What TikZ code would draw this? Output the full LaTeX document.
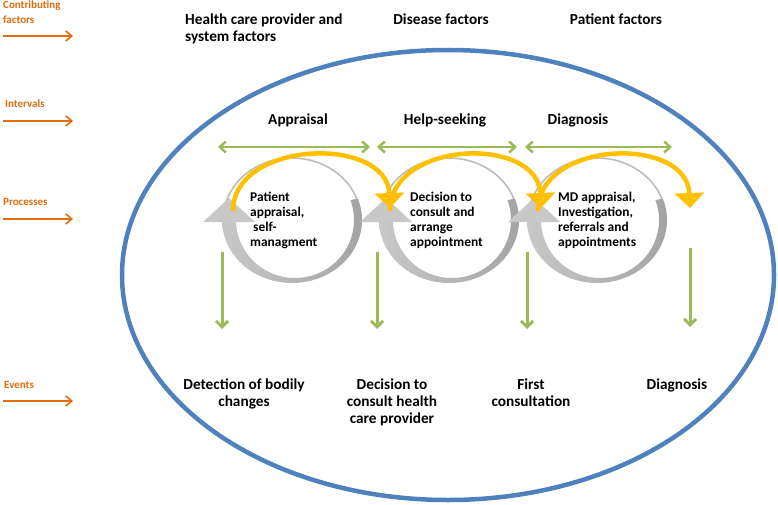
\documentclass[tikz,border=0pt]{standalone}
\usepackage{fontspec}
\setmainfont{Carlito}
\usetikzlibrary{arrows.meta}
\definecolor{org}{HTML}{E46C0A}
\definecolor{grn}{HTML}{9BBB59}
\definecolor{blu}{HTML}{4F81BD}
\definecolor{ylw}{HTML}{FFC000}
\definecolor{gryA}{HTML}{C8C8C8}
\definecolor{gryB}{HTML}{A2A2A2}
\definecolor{gryL}{HTML}{BDBDBD}
\begin{document}
\begin{tikzpicture}[x=1pt,y=-1pt,
  lbl/.style={font=\fontsize{11}{14.3}\selectfont\bfseries, text=org, inner sep=0, align=left, anchor=base west},
  big/.style={font=\fontsize{15.3}{17}\selectfont\bfseries, inner sep=0, anchor=base},
  proc/.style={font=\fontsize{13.4}{15}\selectfont\bfseries, inner sep=0, align=left, anchor=base west},
  oarr/.style={draw=org, line width=1.6, -{Straight Barb[length=6pt,width=10pt,line width=1.6pt]}},
  harr/.style={draw=grn, line width=2.5, {Straight Barb[length=6pt,width=11pt,line width=2.5pt]}-{Straight Barb[length=6pt,width=11pt,line width=2.5pt]}},
  varr/.style={draw=grn, line width=3, -{Straight Barb[length=6pt,width=12pt,line width=3pt]}},
  yarr/.style={draw=ylw, line width=4.5, -{Triangle[length=15pt,width=29pt]}},
  gthin/.style={draw=gryL, line width=1.6},
]
\useasboundingbox (0,0) rectangle (778,505);
\fill[white] (0,0) rectangle (778,505);

% outer ellipse
\draw[blu, line width=4.5] (448,275) ellipse [x radius=326, y radius=225];

% left labels and arrows (base anchor = last line)
\node[lbl] (lcf) at (3,23.3) {Contributing\\factors};
\node[lbl] (lint) at (5,108) {Intervals};
\node[lbl] (lpro) at (3,205) {Processes};
\node[lbl] (lev) at (4,388) {Events};
\coordinate (o1a) at (3,36);  \coordinate (o1b) at (73,36);
\coordinate (o2a) at (3,121); \coordinate (o2b) at (73,121);
\coordinate (o3a) at (3,219); \coordinate (o3b) at (73,219);
\coordinate (o4a) at (3,401); \coordinate (o4b) at (73,401);
\draw[oarr] (o1a) -- (o1b);
\draw[oarr] (o2a) -- (o2b);
\draw[oarr] (o3a) -- (o3b);
\draw[oarr] (o4a) -- (o4b);

% contributing factors
\node[big, anchor=base west, align=left] (hcp) at (185,42) {Health care provider and\\system factors};
\node[big] (dis) at (441,25) {Disease factors};
\node[big] (pat) at (616,25) {Patient factors};

% intervals
\node[big] (iapp) at (298,125) {Appraisal};
\node[big] (ihelp) at (445,125) {Help-seeking};
\node[big] (idiag) at (578,125) {Diagnosis};
\coordinate (h1a) at (218,147); \coordinate (h1b) at (370,147);
\coordinate (h2a) at (377,147); \coordinate (h2b) at (517,147);
\coordinate (h3a) at (525,147); \coordinate (h3b) at (672,147);
\draw[harr] (h1a) -- (h1b);
\draw[harr] (h2a) -- (h2b);
\draw[harr] (h3a) -- (h3b);

% circular gray arrows
\foreach \cx in {292,449,597}{
  \shade[left color=gryA, right color=gryB]
    ({\cx+65.78},198.45) arc[start angle=-20, end angle=180, x radius=70, y radius=63]
    -- ({\cx-56},220) arc[start angle=180, end angle=-20, x radius=59, y radius=58] -- cycle;
  \draw[gthin] ({\cx-69},220) arc[start angle=180, end angle=340, x radius=69, y radius=62];
  \fill[gryA] ({\cx-63},198) -- ({\cx-89},222) -- ({\cx-37},222) -- cycle;
}

% yellow arrows
\coordinate (y1s) at (233,211); \coordinate (y1e) at (390,208);
\coordinate (y2s) at (390,211); \coordinate (y2e) at (541,208);
\coordinate (y3s) at (538,211); \coordinate (y3e) at (690,208);
\draw[yarr] (y1s) .. controls (233,140) and (387,135) .. (y1e);
\draw[yarr] (y2s) .. controls (390,140) and (538,135) .. (y2e);
\draw[yarr] (y3s) .. controls (538,140) and (687,135) .. (y3e);

% process texts
\node[proc] (p1) at (250,246) {Patient\\appraisal,\\\hspace{3pt}self-\\managment};
\node[proc] (p2) at (410,246) {Decision to\\consult and\\arrange\\appointment};
\node[proc] (p3) at (558,246) {MD appraisal,\\Investigation,\\referrals and\\appointments};

% events
\node[big, align=center] (e1) at (244,406) {Detection of bodily\\changes};
\node[big, align=center] (e2) at (392,423) {Decision to\\consult health\\care provider};
\node[big, align=center] (e3) at (531,406) {First\\consultation};
\node[big, align=center] (e4) at (677,389) {Diagnosis};

\coordinate (v1a) at (222,252); \coordinate (v1b) at (222,329);
\coordinate (v2a) at (377,252); \coordinate (v2b) at (377,329);
\coordinate (v3a) at (527,252); \coordinate (v3b) at (527,329);
\coordinate (v4a) at (690,248); \coordinate (v4b) at (690,327);
\draw[varr] (v1a) -- (v1b);
\draw[varr] (v2a) -- (v2b);
\draw[varr] (v3a) -- (v3b);
\draw[varr] (v4a) -- (v4b);
\end{tikzpicture}
\end{document}
